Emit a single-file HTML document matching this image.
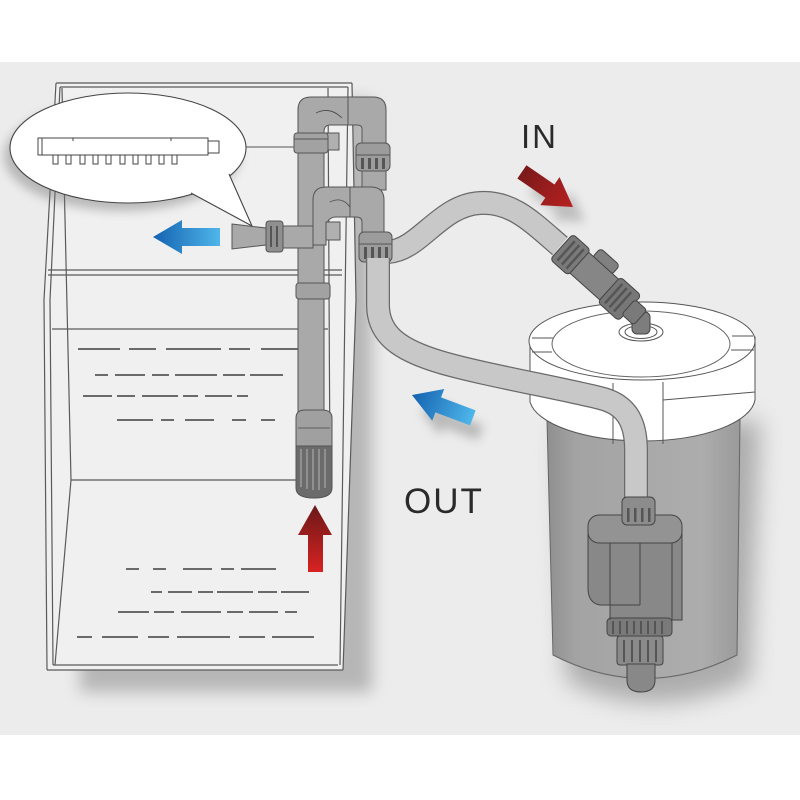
<!DOCTYPE html>
<html><head><meta charset="utf-8"><style>
html,body{margin:0;padding:0;background:#fff;}
svg{display:block;}
</style></head><body>
<svg width="800" height="800" viewBox="0 0 800 800" xmlns="http://www.w3.org/2000/svg">
<defs>
<filter id="b8" x="-30%" y="-30%" width="160%" height="160%"><feGaussianBlur stdDeviation="8"/></filter>
<filter id="b5" x="-30%" y="-30%" width="160%" height="160%"><feGaussianBlur stdDeviation="5"/></filter>
<filter id="b12" x="-30%" y="-30%" width="160%" height="160%"><feGaussianBlur stdDeviation="12"/></filter>
<linearGradient id="blueH" x1="0" y1="0" x2="1" y2="0"><stop offset="0" stop-color="#1462b0"/><stop offset="1" stop-color="#4fb6ea"/></linearGradient>
<linearGradient id="redV" x1="0" y1="0" x2="0" y2="1"><stop offset="0" stop-color="#6a1818"/><stop offset="1" stop-color="#d82222"/></linearGradient>
<linearGradient id="redH" x1="0" y1="0" x2="1" y2="0"><stop offset="0" stop-color="#b82020"/><stop offset="1" stop-color="#7a1a1a"/></linearGradient>
<linearGradient id="can" x1="0" y1="0" x2="1" y2="0"><stop offset="0" stop-color="#8f8f8f"/><stop offset="0.15" stop-color="#a3a3a3"/><stop offset="0.8" stop-color="#adadad"/><stop offset="1" stop-color="#9a9a9a"/></linearGradient>
</defs>

<!-- background -->
<rect width="800" height="800" fill="#ffffff"/>
<rect y="62" width="800" height="673" fill="#ececec"/>

<!-- tank shadow -->
<rect x="80" y="100" width="292" height="592" fill="#8a8a8a" opacity="0.55" filter="url(#b8)"/>
<!-- tank body -->
<polygon points="54,83 352,83 356,300 343,670 47,670 44,300" fill="#f0f0f0"/>
<g stroke="#5a5a5a" stroke-width="1.2" fill="none">
  <line x1="56" y1="83" x2="352" y2="83"/>
  <line x1="60" y1="87" x2="348" y2="87"/>
  <polyline points="56,83 44,300 47,670"/>
  <polyline points="60,87 50,300 53,665"/>
  <line x1="62" y1="88" x2="71" y2="480"/>
  <line x1="71" y1="480" x2="55" y2="665"/>
  <polyline points="352,83 356,300 343,670"/>
  <line x1="348" y1="87" x2="340" y2="665"/>
  <line x1="328" y1="88" x2="330" y2="480"/>
  <line x1="47" y1="670" x2="343" y2="670"/>
  <line x1="53" y1="665" x2="338" y2="665"/>
  <line x1="71" y1="480" x2="330" y2="480"/>
  <line x1="48" y1="270" x2="342" y2="270"/>
  <line x1="48" y1="275" x2="342" y2="275"/>
  <line x1="52" y1="329" x2="328" y2="329"/>
</g>
<!-- water dashes -->
<g stroke="#6a6a6a" stroke-width="2">
  <line x1="78" y1="349" x2="120" y2="349"/><line x1="129" y1="349" x2="156" y2="349"/><line x1="166" y1="349" x2="221" y2="349"/><line x1="229" y1="349" x2="250" y2="349"/><line x1="261" y1="349" x2="300" y2="349"/>
  <line x1="95" y1="375" x2="108" y2="375"/><line x1="115" y1="375" x2="145" y2="375"/><line x1="152" y1="375" x2="169" y2="375"/><line x1="175" y1="375" x2="217" y2="375"/><line x1="223" y1="375" x2="245" y2="375"/><line x1="250" y1="375" x2="283" y2="375"/>
  <line x1="83" y1="396" x2="112" y2="396"/><line x1="117" y1="396" x2="135" y2="396"/><line x1="142" y1="396" x2="178" y2="396"/><line x1="183" y1="396" x2="198" y2="396"/><line x1="205" y1="396" x2="232" y2="396"/><line x1="237" y1="396" x2="248" y2="396"/>
  <line x1="117" y1="420" x2="153" y2="420"/><line x1="161" y1="420" x2="174" y2="420"/><line x1="185" y1="420" x2="214" y2="420"/><line x1="232" y1="420" x2="246" y2="420"/><line x1="261" y1="420" x2="275" y2="420"/>
  <line x1="126" y1="569" x2="139" y2="569"/><line x1="153" y1="569" x2="166" y2="569"/><line x1="183" y1="569" x2="212" y2="569"/><line x1="221" y1="569" x2="234" y2="569"/><line x1="241" y1="569" x2="276" y2="569"/>
  <line x1="151" y1="592" x2="162" y2="592"/><line x1="168" y1="592" x2="192" y2="592"/><line x1="198" y1="592" x2="213" y2="592"/><line x1="217" y1="592" x2="253" y2="592"/><line x1="258" y1="592" x2="277" y2="592"/><line x1="281" y1="592" x2="309" y2="592"/>
  <line x1="118" y1="612" x2="149" y2="612"/><line x1="154" y1="612" x2="174" y2="612"/><line x1="181" y1="612" x2="221" y2="612"/><line x1="227" y1="612" x2="243" y2="612"/><line x1="249" y1="612" x2="278" y2="612"/><line x1="285" y1="612" x2="297" y2="612"/>
  <line x1="77" y1="637" x2="92" y2="637"/><line x1="102" y1="637" x2="138" y2="637"/><line x1="148" y1="637" x2="169" y2="637"/><line x1="177" y1="637" x2="230" y2="637"/><line x1="239" y1="637" x2="265" y2="637"/><line x1="272" y1="637" x2="314" y2="637"/>
</g>

<!-- callout -->
<ellipse cx="122" cy="156" rx="118" ry="55" fill="#777" opacity="0.45" filter="url(#b5)"/>
<ellipse cx="128" cy="148" rx="118" ry="55" fill="#ffffff" stroke="#444" stroke-width="1.1"/>
<polygon points="191,193 252,226 229,174" fill="#ffffff"/>
<line x1="191" y1="193" x2="252" y2="226" stroke="#444" stroke-width="1.1"/>
<line x1="229" y1="174" x2="252" y2="226" stroke="#444" stroke-width="1.1"/>
<line x1="246" y1="147" x2="296" y2="147" stroke="#555" stroke-width="1.1"/>
<!-- spray bar -->
<g stroke="#444" stroke-width="1" fill="#fff">
  <rect x="38" y="138" width="170" height="17"/>
  <line x1="42" y1="138" x2="42" y2="155"/>
  <rect x="208" y="141" width="11" height="12"/>
  <rect x="53" y="155" width="5" height="9"/><rect x="66" y="155" width="5" height="9"/><rect x="80" y="155" width="5" height="9"/><rect x="93" y="155" width="5" height="9"/><rect x="106" y="155" width="5" height="9"/><rect x="120" y="155" width="5" height="9"/><rect x="133" y="155" width="5" height="9"/><rect x="146" y="155" width="5" height="9"/><rect x="159" y="155" width="5" height="9"/><rect x="172" y="155" width="5" height="9"/>
  <line x1="73" y1="138" x2="73" y2="141"/><line x1="171" y1="138" x2="171" y2="141"/>
</g>

<!-- blue arrow left -->
<polygon points="153,237 182,220 182,228 220,228 220,246 182,246 182,254" fill="url(#blueH)"/>

<!-- pipes -->
<g stroke="#555" stroke-width="1" fill="#a9a9a9">
  <rect x="298" y="108" width="26" height="304"/>
  <path d="M298,140 V110 Q298,97 311,97 H348 V125 H330 Q324,125 324,132 V140 Z"/>
  <path d="M348,97 H373 Q386,97 386,110 V145 H362 V129 Q362,125 357,125 H348 Z"/>
  <rect x="325" y="133" width="14" height="17" fill="#b0b0b0"/>
  <rect x="294" y="133" width="34" height="20" rx="3" fill="#a2a2a2"/>
  <line x1="294" y1="139" x2="328" y2="139"/>
  <rect x="362" y="170" width="24" height="20"/>
  <rect x="356" y="143" width="34" height="28" rx="5" fill="#9c9c9c"/>
  <line x1="356" y1="155" x2="390" y2="155"/>
  <path d="M313,245 V200 Q313,187 326,187 H350 V217 H336 Q328,217 326,226 V245 Z"/>
  <path d="M350,187 H371 Q384,187 384,200 V234 H362 V222 Q362,217 356,217 H350 Z"/>
  <rect x="326" y="222" width="14" height="18" fill="#b0b0b0"/>
  <rect x="283" y="226" width="30" height="22"/>
  <polygon points="232,224 266,228 266,245 232,249"/>
  <rect x="266" y="221" width="17" height="31" rx="3" fill="#8f8f8f"/>
  <rect x="296" y="283" width="34" height="16" rx="3" fill="#a2a2a2"/>
  <path d="M296,418 Q296,410 305,410 H322 Q332,410 332,418 V446 H296 Z" fill="#a0a0a0"/>
  <path d="M296,446 H332 V488 Q332,498 314,498 Q296,498 296,488 Z" fill="#6b6b6b"/>
</g>
<g stroke="#4a4a4a" stroke-width="0.8" fill="none">
  <path d="M316,113 Q330,106 342,118"/>
  <path d="M330,202 Q342,196 350,207"/>
  <line x1="298" y1="428" x2="330" y2="428"/>
</g>
<g fill="#909090">
  <rect x="300" y="449" width="2" height="38"/><rect x="306" y="449" width="2" height="40"/><rect x="312" y="449" width="2" height="41"/><rect x="318" y="449" width="2" height="41"/><rect x="324" y="449" width="2" height="39"/>
</g>
<g fill="#555">
  <rect x="361" y="158" width="3" height="11"/><rect x="368" y="158" width="3" height="11"/><rect x="375" y="158" width="3" height="11"/><rect x="382" y="158" width="3" height="11"/>
  <rect x="270" y="226" width="2" height="21"/><rect x="276" y="226" width="2" height="21"/>
</g>

<!-- red up arrow -->
<polygon points="315,505 332,535 323,535 323,572 308,572 308,535 298,535" fill="url(#redV)"/>

<!-- canister shadow -->
<path d="M560,430 L566,680 Q650,725 750,680 L760,420 Z" fill="#777" opacity="0.55" filter="url(#b12)"/>
<!-- canister body -->
<path d="M547,420 L553,655 Q645,702 737,655 L740,420 Z" fill="url(#can)" stroke="#666" stroke-width="1"/>
<!-- lid -->
<path d="M530,340 L530,402 A113,44 0 0 0 755,400 L755,337 Z" fill="#ffffff" stroke="#555" stroke-width="1"/>
<ellipse cx="642" cy="341" rx="113" ry="39" fill="#ffffff" stroke="#555" stroke-width="1"/>
<ellipse cx="641" cy="344" rx="89" ry="33" fill="#ffffff" stroke="#666" stroke-width="1"/>
<g stroke="#555" stroke-width="1" fill="none">
  <line x1="613" y1="383" x2="613" y2="444"/>
  <line x1="663" y1="382" x2="663" y2="444"/>
  <line x1="532" y1="338" x2="553" y2="338"/>
  <line x1="532" y1="352" x2="552" y2="352"/>
  <line x1="732" y1="336" x2="753" y2="336"/>
  <line x1="731" y1="350" x2="754" y2="350"/>
  <line x1="663" y1="400" x2="755" y2="392"/>
</g>
<!-- hub -->
<ellipse cx="641" cy="332" rx="22" ry="9" fill="#fff" stroke="#555" stroke-width="1"/>
<ellipse cx="641" cy="332" rx="16" ry="6.5" fill="#fff" stroke="#555" stroke-width="1"/>
<rect x="632" y="312" width="18" height="22" rx="5" fill="#7d7d7d" stroke="#444" stroke-width="1"/>

<!-- IN hose -->
<path d="M388,252 C420,250 440,205 480,203 C512,201 532,222 560,246" fill="none" stroke="#6a6a6a" stroke-width="24"/>
<path d="M388,252 C420,250 440,205 480,203 C512,201 532,222 560,246" fill="none" stroke="#c8c8c8" stroke-width="21.5"/>
<!-- lower nut over hose start -->
<rect x="359" y="232" width="33" height="30" rx="5" fill="#9c9c9c" stroke="#555" stroke-width="1"/>
<line x1="359" y1="244" x2="392" y2="244" stroke="#555" stroke-width="1"/>
<g fill="#555"><rect x="364" y="247" width="3" height="12"/><rect x="371" y="247" width="3" height="12"/><rect x="378" y="247" width="3" height="12"/><rect x="385" y="247" width="3" height="12"/></g>

<!-- valve assembly -->
<g transform="translate(563,248) rotate(42)" stroke="#444" stroke-width="1">
  <rect x="28" y="-25" width="26" height="13" rx="4" fill="#808080"/>
  <rect x="20" y="-14" width="44" height="28" fill="#868686"/>
  <rect x="-2" y="-17" width="24" height="34" rx="4" fill="#7a7a7a"/>
  <rect x="62" y="-17" width="28" height="34" rx="4" fill="#777"/>
  <rect x="88" y="-10" width="16" height="20" rx="3" fill="#7a7a7a"/>
  <g fill="#555" stroke="none">
    <rect x="3" y="-13" width="2.5" height="26"/><rect x="9" y="-13" width="2.5" height="26"/><rect x="15" y="-13" width="2.5" height="26"/>
    <rect x="67" y="-13" width="2.5" height="26"/><rect x="73" y="-13" width="2.5" height="26"/><rect x="79" y="-13" width="2.5" height="26"/>
  </g>
</g>

<!-- OUT hose -->
<path d="M378,258 L378,305 C378,335 400,350 440,362 C480,374 560,388 600,398 C625,404 636,420 636,450 L636,502" fill="none" stroke="#6a6a6a" stroke-width="24"/>
<path d="M378,258 L378,305 C378,335 400,350 440,362 C480,374 560,388 600,398 C625,404 636,420 636,450 L636,502" fill="none" stroke="#c8c8c8" stroke-width="21.5"/>

<!-- pump -->
<g stroke="#444" stroke-width="1">
  <path d="M588,530 V588 Q588,603 600,605 L610,605 V620 H682 V530 Z" fill="#888"/>
  <rect x="588" y="515" width="94" height="28" rx="11" fill="#939393"/>
  <rect x="622" y="497" width="33" height="28" rx="5" fill="#8c8c8c"/>
  <rect x="607" y="618" width="65" height="18" rx="4" fill="#7a7a7a"/>
  <rect x="617" y="636" width="46" height="29" rx="3" fill="#8a8a8a"/>
  <path d="M627,664 H655 V680 Q655,692 641,692 Q627,692 627,680 Z" fill="#888"/>
  <line x1="610" y1="543" x2="610" y2="620" fill="none"/>
  <line x1="640" y1="543" x2="640" y2="605" fill="none"/>
  <line x1="610" y1="605" x2="640" y2="605" fill="none"/>
  <line x1="672" y1="543" x2="672" y2="620" fill="none"/>
</g>
<g fill="#555">
  <rect x="627" y="508" width="2.5" height="14"/><rect x="634" y="508" width="2.5" height="14"/><rect x="641" y="508" width="2.5" height="14"/><rect x="648" y="508" width="2.5" height="14"/>
  <rect x="612" y="621" width="2" height="13"/><rect x="619" y="621" width="2" height="13"/><rect x="626" y="621" width="2" height="13"/><rect x="633" y="621" width="2" height="13"/><rect x="640" y="621" width="2" height="13"/><rect x="647" y="621" width="2" height="13"/><rect x="654" y="621" width="2" height="13"/><rect x="661" y="621" width="2" height="13"/>
  <rect x="623" y="640" width="2" height="22"/><rect x="631" y="640" width="2" height="22"/><rect x="639" y="640" width="2" height="22"/><rect x="647" y="640" width="2" height="22"/><rect x="655" y="640" width="2" height="22"/>
</g>

<!-- arrow shadows -->
<g transform="translate(420,410) rotate(20.6)" opacity="0.5" filter="url(#b5)">
  <polygon points="0,0 28,-17 28,-8 65,-8 65,8 28,8 28,17" fill="#888"/>
</g>
<g transform="translate(585,222) rotate(214.5)" opacity="0.45" filter="url(#b5)">
  <polygon points="0,0 28,-17 28,-8 62,-8 62,8 28,8 28,17" fill="#888"/>
</g>

<!-- OUT blue arrow -->
<g transform="translate(412,395) rotate(20.6)">
  <polygon points="0,0 28,-17 28,-8 65,-8 65,8 28,8 28,17" fill="url(#blueH)"/>
</g>
<!-- IN red arrow -->
<g transform="translate(573,207) rotate(214.5)">
  <polygon points="0,0 28,-17 28,-8 62,-8 62,8 28,8 28,17" fill="url(#redH)"/>
</g>

<!-- labels -->
<text x="521" y="148" font-family="Liberation Sans, sans-serif" font-size="33" fill="#2a2a2a" letter-spacing="2">IN</text>
<text x="404" y="513" font-family="Liberation Sans, sans-serif" font-size="35" fill="#2a2a2a" letter-spacing="2">OUT</text>
</svg>
</body></html>
